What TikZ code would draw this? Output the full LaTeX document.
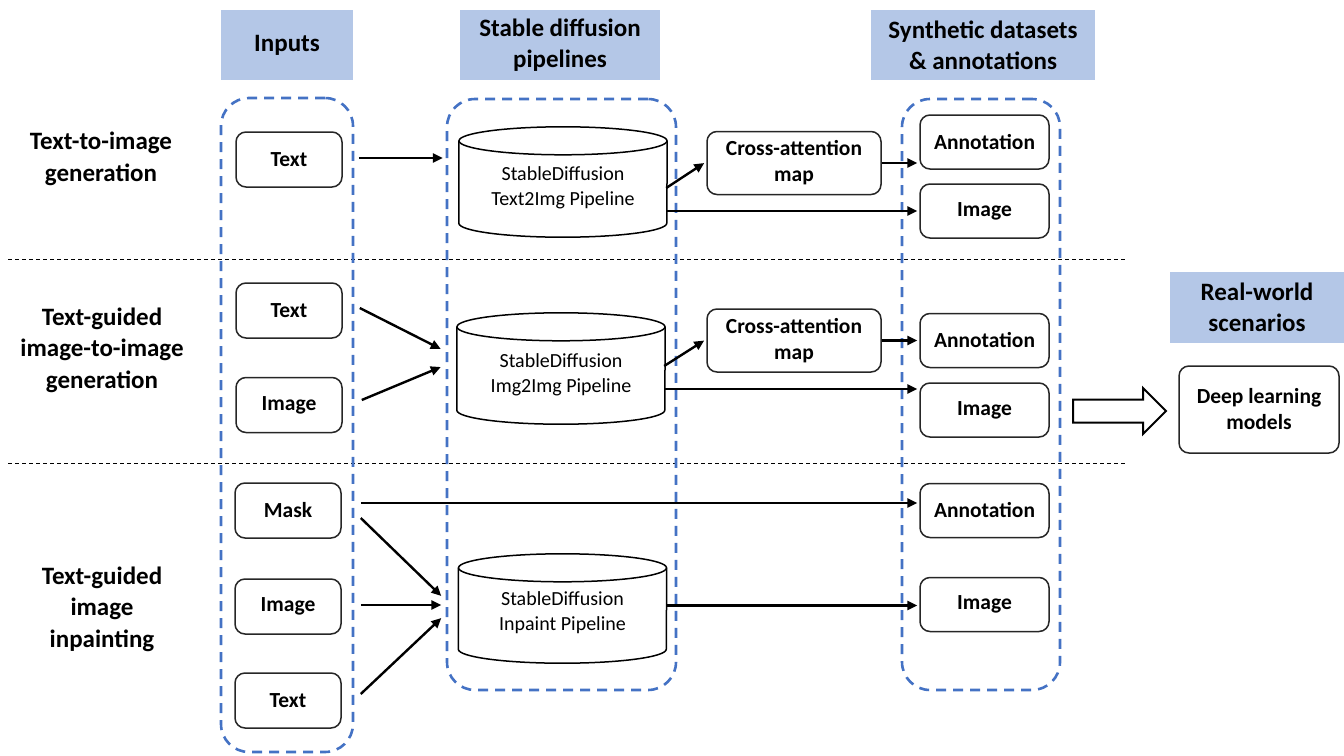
\documentclass[tikz,border=0pt]{standalone}
\usepackage{fontspec}
\setmainfont{Carlito}
\usetikzlibrary{calc,arrows.meta}
\definecolor{hdr}{HTML}{B4C7E7}
\definecolor{dashblue}{HTML}{4472C4}
\tikzset{
 hdrbox/.style={fill=hdr, draw=none, font=\fontsize{25}{31}\selectfont\bfseries, align=center, inner sep=0pt},
 rowlbl/.style={font=\fontsize{25}{31.5}\selectfont\bfseries, align=center, inner sep=0pt},
 box/.style={draw=black!85, line width=1.5pt, rounded corners=10pt, font=\fontsize{21.5}{26}\selectfont\bfseries, align=center, inner sep=0pt},
 inbox/.style={box, minimum width=106pt, minimum height=55pt},
 outbox/.style={box, minimum width=129pt, minimum height=54pt},
 cabox/.style={box, minimum width=174pt, minimum height=63pt},
 cylbox/.style={draw=none, inner sep=0pt, minimum width=208pt},
 cyltext/.style={font=\fontsize{20}{25}\selectfont, align=center, inner sep=0pt},
 cylline/.style={draw=black, line width=1.5pt},
 container/.style={draw=dashblue, line width=2.6pt, dash pattern=on 10pt off 7pt, rounded corners=28pt, inner sep=0pt},
 arr/.style={draw=black, line width=2.4pt, -{Triangle[length=10pt,width=9pt]}},
 sepline/.style={draw=black, line width=1pt, dash pattern=on 4pt off 3pt},
 blockarrow/.style={draw=black, line width=2pt, fill=white},
}
\newcommand\drawcyl[1]{%
 \draw[cylline] ([yshift=-14pt]#1.north west) -- ([yshift=14pt]#1.south west)
   arc[start angle=180,end angle=360,x radius=104pt,y radius=14pt]
   -- ([yshift=-14pt]#1.north east);
 \draw[cylline] ([yshift=-14pt]#1.north) ellipse[x radius=104pt, y radius=14pt];}
\begin{document}
\begin{tikzpicture}[x=1pt,y=-1pt]
\useasboundingbox (0,0) rectangle (1344,755);

% separators
\draw[sepline] (8,259) -- (1125,259);
\draw[sepline] (8,463) -- (1125,463);

% headers
\node[hdrbox, minimum width=132pt, minimum height=70pt] (hin) at (287,45) {Inputs};
\node[hdrbox, minimum width=200pt, minimum height=70pt] (hsd) at (560,45) {Stable diffusion\\pipelines};
\node[hdrbox, minimum width=224pt, minimum height=70pt] (hsyn) at (983,45) {Synthetic datasets\\\& annotations};
\node[hdrbox, minimum width=174pt, minimum height=71pt] (hrw) at (1257,307.5) {Real-world\\scenarios};

% row labels
\node[rowlbl] (r1) at (101,159) {Text-to-image\\generation};
\node[rowlbl] (r2) at (102,350) {Text-guided\\image-to-image\\generation};
\node[rowlbl] (r3) at (102,609) {Text-guided\\image\\inpainting};

% containers
\node[container, minimum width=132pt, minimum height=654pt] (colin) at (287,425) {};
\node[container, minimum width=229pt, minimum height=591pt] (colsd) at (561.5,394.5) {};
\node[container, minimum width=158pt, minimum height=591pt] (colsyn) at (981,394.5) {};

% inputs
\node[inbox] (t1) at (289,159.5) {Text};
\node[inbox] (t2) at (289,310.5) {Text};
\node[inbox] (i2) at (289,405) {Image};
\node[inbox] (m3) at (288,510.5) {Mask};
\node[inbox] (i3) at (288,606.5) {Image};
\node[inbox] (t3) at (288,700.5) {Text};

% cylinders
\node[cylbox, minimum height=110pt] (c1) at (563,182) {};
\drawcyl{c1}
\node[cyltext] (c1t) at (563,188) {StableDiffusion\\Text2Img Pipeline};
\node[cylbox, minimum height=111pt] (c2) at (561,368.5) {};
\drawcyl{c2}
\node[cyltext] (c2t) at (561,375) {StableDiffusion\\Img2Img Pipeline};
\node[cylbox, minimum height=109pt] (c3) at (562.5,608.5) {};
\drawcyl{c3}
\node[cyltext] (c3t) at (562.5,613) {StableDiffusion\\Inpaint Pipeline};

% cross-attention
\node[cabox] (ca1) at (794,163) {Cross-attention\\map};
\node[cabox] (ca2) at (794,340.5) {Cross-attention\\map};

% outputs
\node[outbox] (a1) at (984.5,142) {Annotation};
\node[outbox] (g1) at (984.5,211) {Image};
\node[outbox] (a2) at (984.5,340.5) {Annotation};
\node[outbox] (g2) at (984.5,410) {Image};
\node[outbox] (a3) at (984.5,510.5) {Annotation};
\node[outbox] (g3) at (984.5,604.5) {Image};

% deep learning
\node[box, minimum width=160pt, minimum height=87pt] (dl) at (1259,409.5) {Deep learning\\models};

% block arrow
\draw[blockarrow] (1073,399.5) -- (1143,399.5) -- (1143,388) -- (1166,411)
  -- (1143,434) -- (1143,422.5) -- (1073,422.5) -- cycle;

% row 1 connectors
\draw[arr] ($(t1.east)+(16,-1.5)$) -- ($(c1.west)+(-16,-24)$);
\draw[arr] ($(c1.east)+(-1,6)$) -- ($(ca1.west)+(-2,0)$);
\draw[arr] (ca1.east) -- ($(ca1.east -| a1.west)+(-2,0)$);
\draw[arr] (g1.west -| c1.east) -- ($(g1.west)+(-2,0)$);

% row 2 connectors
\draw[arr] ($(t2.east)+(17,-2.5)$) -- ($(c2.west)+(-16,-19.5)$);
\draw[arr] ($(i2.east)+(19,-5)$) -- ($(c2.west)+(-16,-1.5)$);
\draw[arr] ($(c2.east)+(-1,-2.5)$) -- ($(ca2.west)+(-2,0)$);
\draw[arr] (ca2.east) -- ($(ca2.east -| a2.west)+(-2,0)$);
\draw[arr] ($(c2.east)+(0,20.5)$) -- ($(g2.west)+(-2,-21)$);

% row 3 connectors
\draw[arr] ($(m3.east)+(19,-7.5)$) -- ($(a3.west)+(-2,-7.5)$);
\draw[arr] ($(m3.east)+(19,7.5)$) -- ($(c3.west)+(-17,-12.5)$);
\draw[arr] ($(i3.east)+(19,-1.5)$) -- ($(c3.west)+(-17,-3.5)$);
\draw[arr] ($(t3.east)+(19,-6.5)$) -- ($(c3.west)+(-17,9.5)$);
\draw[arr] ($(c3.east)+(0,-3)$) -- ($(g3.west)+(-2,1)$);
\end{tikzpicture}
\end{document}
